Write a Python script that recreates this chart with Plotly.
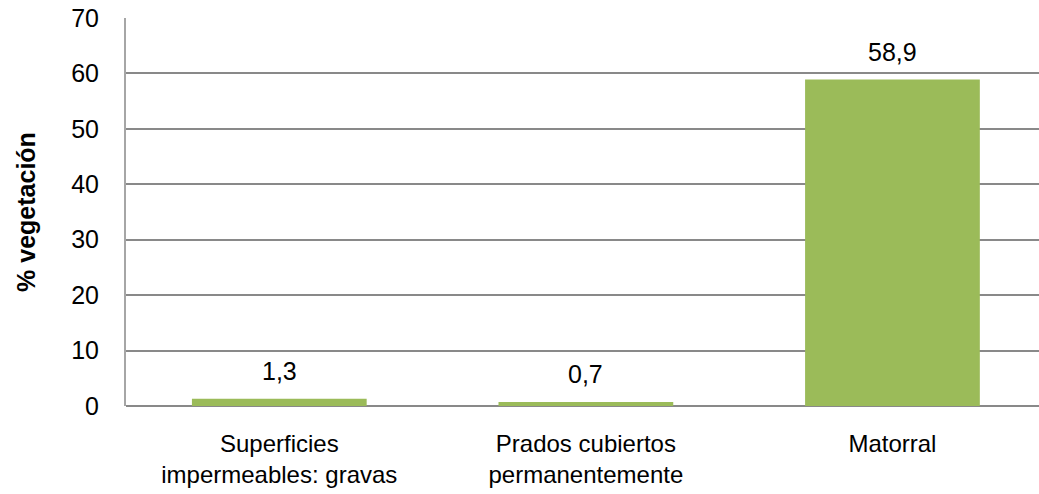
import plotly.graph_objects as go

categories = ["Superficies<br>impermeables: gravas", "Prados cubiertos<br>permanentemente", "Matorral"]
values = [1.3, 0.7, 58.9]
value_labels = ["1,3", "0,7", "58,9"]
y_ticks = [0, 10, 20, 30, 40, 50, 60, 70]

FONT = "Liberation Sans, Arial, sans-serif"
GREEN = "#9BBB59"
FS = 25

fig = go.Figure()
fig.add_trace(go.Bar(
    x=categories, y=values, marker=dict(color=GREEN, line=dict(width=0)),
    width=0.57, hoverinfo="skip",
))

for c, v, t in zip(categories, values, value_labels):
    fig.add_annotation(x=c, y=v, text=t, showarrow=False, yanchor="bottom",
                       yshift=12, font=dict(family=FONT, size=FS, color="#000000"))

fig.update_layout(
    width=1039, height=494,
    margin=dict(l=126, r=0, t=18, b=88, autoexpand=False),
    paper_bgcolor="white", plot_bgcolor="white",
    showlegend=False, bargap=0.43,
    font=dict(family=FONT, size=FS, color="#000000"),
    separators=", ",
)
fig.update_xaxes(
    range=[-0.5, 2.478], showgrid=False, showline=False, ticks="",
    tickfont=dict(family=FONT, size=24, color="#000000"),
    ticklabelstandoff=21, automargin=False,
)
fig.update_yaxes(
    range=[0, 70], tickvals=y_ticks, showgrid=True, gridcolor="#898989", gridwidth=2,
    showline=True, linecolor="#A6A6A6", linewidth=2, zeroline=True, zerolinecolor="#898989",
    zerolinewidth=2, ticks="", ticklabelstandoff=20, automargin=False,
    tickfont=dict(family=FONT, size=FS, color="#000000"),
    title=dict(text="<b>% vegetación</b>", font=dict(family=FONT, size=25, color="#000000"), standoff=28),
)

fig.write_html("out.html", config={"displayModeBar": False},
               post_script="document.body.style.margin='0px';document.body.style.padding='0px';")
